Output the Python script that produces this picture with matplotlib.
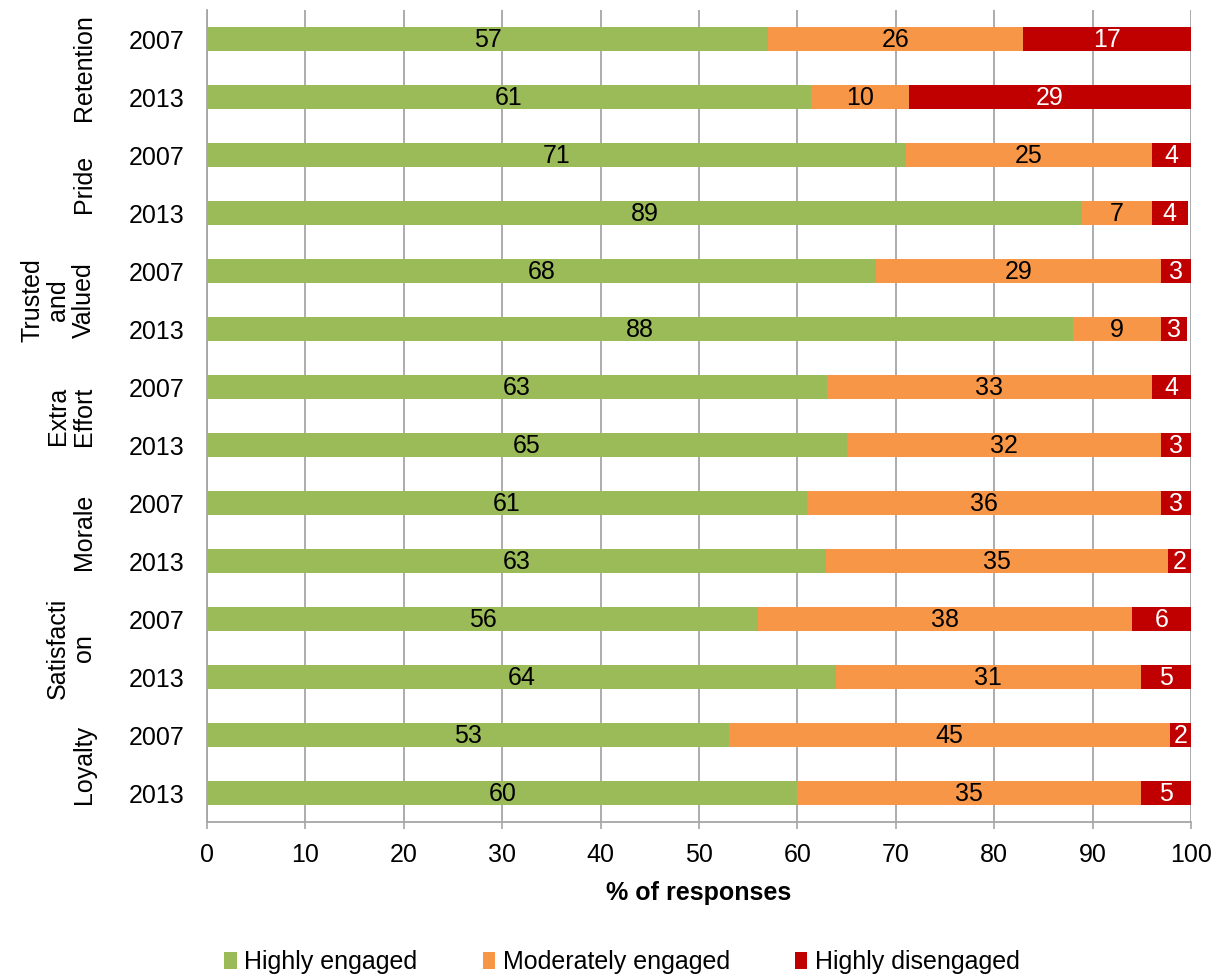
import matplotlib
matplotlib.use("Agg")
import matplotlib.pyplot as plt
import numpy as np

plt.rcParams['font.family'] = ['Liberation Sans', 'DejaVu Sans']

groups = ["Retention", "Pride", "Trusted\nand\nValued", "Extra\nEffort", "Morale", "Satisfacti\non", "Loyalty"]
years = ["2007", "2013"] * 7
highly_engaged = [57.0, 61.4, 71.0, 88.9, 68.0, 88.0, 63.0, 65.0, 61.0, 62.9, 56.0, 63.9, 53.0, 60.0]
moderately_engaged = [25.9, 9.9, 25.0, 7.1, 29.0, 9.0, 33.0, 32.0, 36.0, 34.8, 38.0, 31.0, 44.9, 34.9]
highly_disengaged = [17.1, 28.7, 4.0, 3.7, 3.0, 2.6, 4.0, 3.0, 3.0, 2.3, 6.0, 5.1, 2.1, 5.1]
series_names = ["Highly engaged", "Moderately engaged", "Highly disengaged"]
colors = ["#9BBB59", "#F79646", "#C00000"]
label_colors = ["black", "black", "white"]
xticks = list(range(0, 101, 10))

W, H = 1221, 976
fig = plt.figure(figsize=(W / 100, H / 100), dpi=100)
ax = fig.add_axes([207 / W, (H - 822) / H, 984 / W, 812 / H])

y = np.arange(len(years))
left = np.zeros(len(years))
fs = 18
for vals, name, col, lc in zip([highly_engaged, moderately_engaged, highly_disengaged], series_names, colors, label_colors):
    vals = np.array(vals)
    ax.barh(y, vals, left=left, height=0.42, color=col, label=name, zorder=3)
    for yi, l, v in zip(y, left, vals):
        ax.text(l + v / 2, yi + 0.02, f"{round(v):d}", ha="center", va="center", color=lc, fontsize=fs, zorder=4)
    left = left + vals

ax.set_ylim(len(years) - 0.5, -0.5)
ax.set_xlim(0, 100)
ax.set_xticks(xticks)
ax.set_yticks(y)
ax.set_yticklabels(years, fontsize=fs)
ax.tick_params(axis="y", length=0, pad=16.5)
ax.tick_params(axis="x", labelsize=fs, direction="out", length=5, color="#A6A6A6", width=1.2, pad=10)
ax.grid(axis="x", color="#A6A6A6", linewidth=1.3, zorder=0)
for s in ["top", "right"]:
    ax.spines[s].set_visible(False)
for s in ["left", "bottom"]:
    ax.spines[s].set_color("#A6A6A6")
    ax.spines[s].set_linewidth(1.3)
ax.set_xlabel("% of responses", fontsize=fs, fontweight="bold", labelpad=10)

trans = matplotlib.transforms.blended_transform_factory(fig.transFigure, ax.transData)
for i, g in enumerate(groups):
    ax.text(96 / W, 2 * i + 0.5, g, rotation=90, ha="right", va="center", ma="center",
            fontsize=fs, transform=trans, linespacing=1.1)

handles, labels = ax.get_legend_handles_labels()
fig.legend(handles, labels, loc="center", bbox_to_anchor=(622 / W, 1 - 962 / H), ncol=3,
           frameon=False, fontsize=fs, handlelength=0.5, handleheight=0.65, handletextpad=0.3,
           columnspacing=2.6)

fig.savefig("out.png", dpi=100)
